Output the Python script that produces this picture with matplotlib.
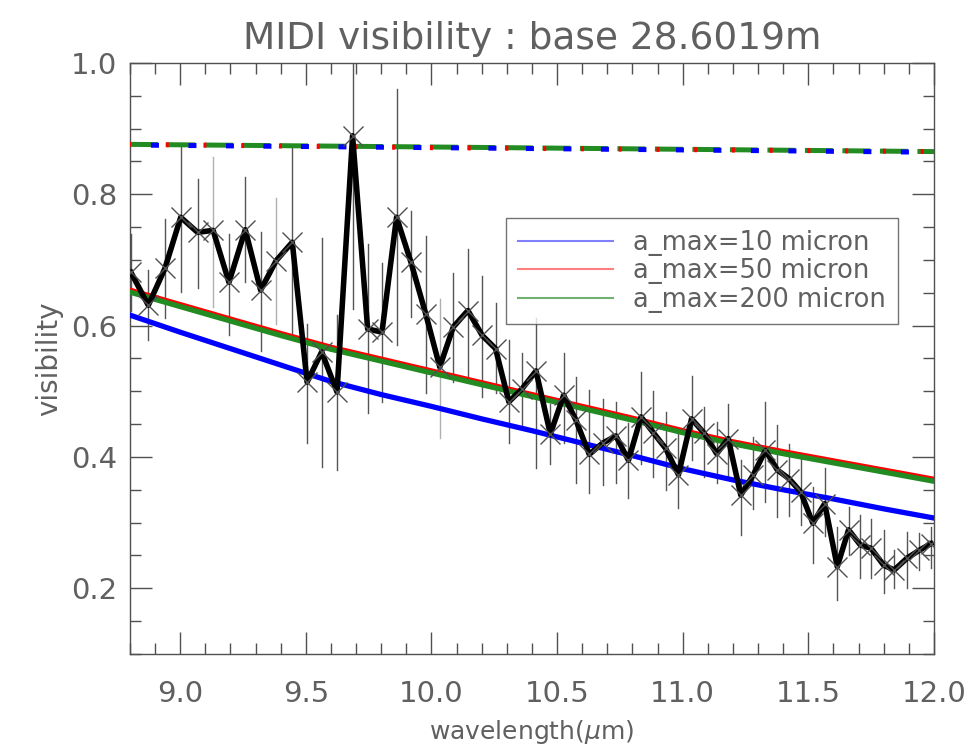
import numpy as np
import matplotlib
matplotlib.use('Agg')
import matplotlib.pyplot as plt
from matplotlib.ticker import MultipleLocator

wave = [8.804, 8.873, 8.939, 9.002, 9.069, 9.131, 9.194, 9.259, 9.320, 9.382,
        9.446, 9.505, 9.563, 9.624, 9.686, 9.746, 9.803, 9.861, 9.918, 9.977,
        10.033, 10.087, 10.145, 10.202, 10.255, 10.308, 10.361, 10.416, 10.473, 10.526,
        10.575, 10.628, 10.681, 10.734, 10.784, 10.834, 10.883, 10.932, 10.983, 11.035,
        11.086, 11.135, 11.181, 11.231, 11.280, 11.329, 11.377, 11.423, 11.469, 11.518,
        11.565, 11.615, 11.660, 11.707, 11.749, 11.800, 11.842, 11.893, 11.942, 11.988]
vis = [0.681, 0.631, 0.687, 0.765, 0.742, 0.745, 0.666, 0.746, 0.654, 0.699,
       0.727, 0.514, 0.560, 0.499, 0.889, 0.595, 0.590, 0.765, 0.697, 0.618,
       0.537, 0.598, 0.623, 0.585, 0.565, 0.484, 0.504, 0.531, 0.435, 0.494,
       0.456, 0.404, 0.421, 0.432, 0.395, 0.461, 0.437, 0.413, 0.373, 0.458,
       0.436, 0.405, 0.428, 0.342, 0.372, 0.410, 0.380, 0.367, 0.347, 0.299,
       0.329, 0.233, 0.289, 0.266, 0.261, 0.235, 0.228, 0.246, 0.258, 0.268]
vis_lo = [0.622, 0.578, 0.611, 0.651, 0.657, 0.628, 0.585, 0.666, 0.562, 0.603,
          0.581, 0.421, 0.384, 0.380, 0.626, 0.467, 0.483, 0.570, 0.613, 0.498,
          0.429, 0.514, 0.524, 0.491, 0.497, 0.421, 0.448, 0.383, 0.390, 0.421,
          0.360, 0.345, 0.357, 0.360, 0.337, 0.390, 0.370, 0.349, 0.322, 0.395,
          0.370, 0.360, 0.370, 0.281, 0.320, 0.331, 0.308, 0.310, 0.296, 0.238,
          0.280, 0.182, 0.250, 0.216, 0.215, 0.193, 0.200, 0.200, 0.228, 0.231]
vis_hi = [0.740, 0.684, 0.763, 0.874, 0.824, 0.856, 0.740, 0.826, 0.742, 0.795,
          0.874, 0.603, 0.733, 0.616, 1.150, 0.725, 0.696, 0.961, 0.775, 0.737,
          0.641, 0.680, 0.717, 0.676, 0.634, 0.578, 0.559, 0.611, 0.480, 0.558,
          0.521, 0.502, 0.489, 0.483, 0.451, 0.529, 0.500, 0.468, 0.441, 0.524,
          0.476, 0.453, 0.481, 0.395, 0.430, 0.483, 0.448, 0.420, 0.403, 0.354,
          0.383, 0.293, 0.324, 0.311, 0.305, 0.289, 0.258, 0.286, 0.284, 0.293]
light_bars = [5, 9, 20]

# model curves
model_wave = [8.8, 9.0, 9.2, 9.4, 9.6, 9.8, 10.0, 10.2, 10.4, 10.6,
              10.8, 11.0, 11.2, 11.4, 11.6, 11.8, 12.0]
model_10 = [0.616, 0.590, 0.565, 0.540, 0.515, 0.495, 0.477, 0.458, 0.440, 0.421,
            0.402, 0.382, 0.365, 0.350, 0.336, 0.321, 0.307]
model_50 = [0.654, 0.632, 0.610, 0.588, 0.567, 0.549, 0.531, 0.513, 0.495, 0.477,
            0.459, 0.440, 0.423, 0.408, 0.394, 0.380, 0.366]
model_200 = [0.651, 0.629, 0.607, 0.585, 0.564, 0.546, 0.528, 0.510, 0.492, 0.474,
             0.456, 0.437, 0.420, 0.405, 0.391, 0.377, 0.363]
# unresolved (dash-dot) curves
flat_wave = [8.8, 10.0, 12.0]
flat_10 = [0.875, 0.871, 0.864]
flat_50 = [0.876, 0.871, 0.865]
flat_200 = [0.876, 0.872, 0.865]

labels = ['a_max=10 micron', 'a_max=50 micron', 'a_max=200 micron']
title = 'MIDI visibility : base 28.6019m'

txt = '#606060'
plt.rcParams['font.family'] = ['DejaVu Sans']

fig = plt.figure(figsize=(9.72, 7.51), dpi=100)
ax = fig.add_axes([0.1337, 0.1292, 0.8272, 0.7870])

# error bars
for i in range(len(wave)):
    c = '#b0b0b0' if i in light_bars else '#555555'
    ax.plot([wave[i], wave[i]], [vis_lo[i], vis_hi[i]], color=c, lw=1.0, zorder=2)

ax.plot(model_wave, model_10, color='#0000ff', lw=3.8, zorder=3)
ax.plot(model_wave, model_50, color='#ff0000', lw=3.8, zorder=3)
ax.plot(model_wave, model_200, color='#228b22', lw=3.8, zorder=3)

# dashed curves overlap almost exactly; green on top, blue/red peeking through
ax.plot(flat_wave, flat_200, color='#228b22', lw=3.6, ls=(0, (5.6, 1.9)), zorder=3)
ax.plot(flat_wave, flat_10, color='#0000ff', lw=3.6, ls=(3.3, (1.6, 5.9)), zorder=3.1)
ax.plot(flat_wave, flat_50, color='#ff0000', lw=3.6, ls=(0.4, (0.6, 6.95)), zorder=3.1)

ax.plot(wave, vis, color='black', lw=4.0, zorder=4)
ax.plot(wave, vis, ls='none', marker='x', ms=14, mew=1.0, color='#505050', zorder=5)

# legend with thin light handles
hb, = ax.plot([], [], color='#8080ff', lw=1.5)
hr, = ax.plot([], [], color='#ff8080', lw=1.5)
hg, = ax.plot([], [], color='#70b070', lw=1.5)
leg = ax.legend([hb, hr, hg], labels, loc='upper left', bbox_to_anchor=(0.4677, 0.7377),
                fontsize=18.5, frameon=True, fancybox=False, handlelength=3.7,
                handletextpad=0.8, labelspacing=0.1, borderpad=0.45, borderaxespad=0,
                labelcolor=txt)
leg.get_frame().set_edgecolor('#505050')
leg.get_frame().set_linewidth(1.0)

ax.set_xlim(8.8, 12.0)
ax.set_ylim(0.1, 1.0)
ax.xaxis.set_minor_locator(MultipleLocator(0.1))
ax.yaxis.set_minor_locator(MultipleLocator(0.05))
ax.set_xticks(np.arange(9.0, 12.01, 0.5))
ax.set_xticklabels(['%.1f' % t for t in np.arange(9.0, 12.01, 0.5)])
ax.set_yticks([0.2, 0.4, 0.6, 0.8, 1.0])
ax.set_yticklabels(['0.2', '0.4', '0.6', '0.8', '1.0'])

ax.tick_params(which='both', direction='in', top=True, right=True, colors='#505050',
               labelcolor=txt, labelsize=21, width=1.0)
ax.tick_params(which='major', length=16)
ax.tick_params(which='minor', length=8)
ax.tick_params(axis='x', which='major', pad=19)
ax.tick_params(axis='y', which='major', pad=9)
for s in ax.spines.values():
    s.set_color('#505050')
    s.set_linewidth(1.0)

ax.set_title(title, fontsize=27, color=txt, pad=10)
ax.set_xlabel(r'wavelength($\mu$m)', fontsize=18, color=txt, labelpad=7)
ax.set_ylabel('visibility', fontsize=20, color=txt, labelpad=6)

plt.savefig('out.png', dpi=100)
plt.close()
